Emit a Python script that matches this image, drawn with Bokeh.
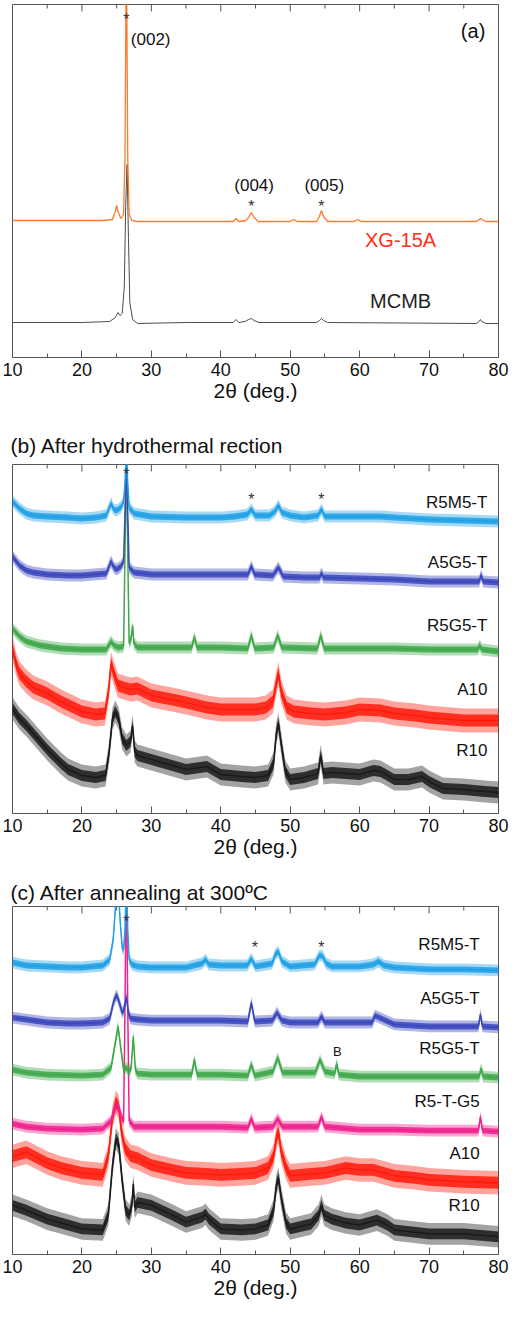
from bokeh.plotting import figure
from bokeh.layouts import column
from bokeh.models import SingleIntervalTicker, Label, ColumnDataSource
from bokeh.embed import file_html
from bokeh.resources import INLINE

FONT = "Liberation Sans"

# ---------------- data (2theta in degrees, intensity in arbitrary units) ----------------
TICK_MAJOR = [10, 20, 30, 40, 50, 60, 70, 80]
TICK_MINOR = [15, 25, 35, 45, 55, 65, 75]

# Panel (a)
XG15A_X = [10, 15, 20, 23, 24.4, 24.8, 25.0, 25.2, 25.6, 26.0, 26.2, 26.4, 26.6, 26.8, 27.2, 28, 35,
           41.8, 42.2, 42.6, 43.6, 44.0, 44.4, 44.8, 45.4, 50.0, 50.5, 51.0, 53.8, 54.2, 54.5, 54.8, 55.4,
           59.2, 59.7, 60.2, 76.8, 77.2, 77.4, 77.6, 78.2, 80]
XG15A_Y = [137, 137, 137, 137, 138, 146, 152, 146, 139, 143, 200, 420, 200, 143, 137, 136, 136,
           136, 139, 136, 137, 140, 145, 140, 136, 136, 138, 136, 136, 141, 147, 141, 136,
           136, 138, 136, 136, 138, 139, 138, 136, 136]
MCMB_X = [10, 20, 24.0, 24.8, 25.2, 25.5, 25.8, 26.1, 26.3, 26.5, 26.7, 26.9, 27.3, 28, 35,
          41.8, 42.2, 42.6, 43.5, 44.0, 44.4, 44.8, 45.5, 53.8, 54.2, 54.5, 54.8, 55.4,
          76.8, 77.2, 77.4, 77.6, 78.2, 80]
MCMB_Y = [35, 35, 36, 40, 45, 42, 44, 70, 150, 193, 120, 55, 38, 34, 35,
          35, 38, 35, 36, 38, 39, 37, 35, 35, 37, 39, 37, 35,
          34, 36, 38, 36, 34, 34]

# Panel (b): after hydrothermal reaction
B_R5M5T_X = [10, 11, 12, 13, 15, 18, 20, 22, 23.5, 24.2, 24.6, 25.0, 25.6, 26.0, 26.2, 26.4, 26.6, 26.8,
             27.5, 30, 35, 40, 42, 43.8, 44.4, 45, 47, 47.8, 48.3, 48.8, 50, 52, 54.0, 54.5, 55.0,
             57, 60, 63, 65, 70, 75, 80]
B_R5M5T_Y = [312, 305, 300, 298, 297, 296, 295, 296, 298, 310, 304, 303, 306, 312, 330, 360, 330, 306,
             300, 297, 296, 296, 297, 299, 304, 298, 298, 302, 308, 301, 298, 296, 298, 304, 297,
             297, 297, 297, 296, 294, 293, 292]
B_A5G5T_X = [10, 11, 12, 13, 15, 18, 20, 23.5, 24.2, 24.6, 25.0, 25.6, 26.0, 26.2, 26.4, 26.6, 26.8,
             27.5, 30, 35, 40, 43.9, 44.4, 44.9, 47.5, 48.3, 49, 52, 54.2, 54.5, 54.8, 60, 65, 70,
             77.2, 77.5, 77.8, 80]
B_A5G5T_Y = [257, 248, 243, 241, 239, 238, 238, 240, 252, 246, 244, 247, 252, 300, 360, 300, 246,
             241, 239, 239, 239, 239, 247, 239, 238, 246, 237, 236, 236, 240, 236, 235, 234, 232,
             232, 238, 232, 231]
B_R5G5T_X = [10, 11, 12, 14, 17, 20, 23.5, 24.2, 24.6, 25.2, 26.0, 26.2, 26.4, 26.6, 26.8, 27.1, 27.3,
             27.5, 28, 30, 35.8, 36.2, 36.6, 40, 43.9, 44.4, 44.9, 47.6, 48.2, 48.8, 53.9, 54.4, 54.9,
             60, 65, 70, 77.0, 77.3, 77.6, 80]
B_R5G5T_Y = [185, 177, 172, 168, 165, 164, 164, 172, 168, 166, 167, 260, 360, 260, 170, 175, 188,
             170, 166, 166, 166, 176, 166, 166, 165, 178, 165, 166, 178, 166, 165, 178, 165,
             165, 165, 164, 164, 168, 164, 162]
B_A10_X = [10, 10.5, 11, 12, 13, 15, 17, 20, 22, 23.3, 23.8, 24.2, 24.6, 25.2, 26, 27, 28, 30, 33, 35,
           38, 40, 43, 45, 46.5, 47.5, 48.0, 48.3, 48.7, 49.5, 50.5, 53, 55, 58, 60, 63, 65, 68, 70, 75, 80]
B_A10_Y = [165, 150, 140, 132, 126, 120, 112, 102, 99, 100, 120, 150, 140, 128, 126, 124, 125, 118, 114, 111,
           106, 104, 104, 104, 106, 112, 130, 140, 122, 106, 102, 100, 99, 101, 104, 103, 100, 98, 96, 93, 93]
B_R10_X = [10, 10.5, 11, 12, 13, 15, 17, 18, 20, 22, 23.4, 23.9, 24.4, 24.8, 25.3, 25.8, 26.4, 27.0, 27.3,
           27.6, 28, 30, 32, 35, 38, 40, 43, 45, 46.8, 47.6, 48.0, 48.3, 48.7, 49.3, 50, 52, 54.0, 54.4,
           54.8, 56, 58, 60, 62, 63, 65, 67, 69, 70, 72, 75, 78, 80]
B_R10_Y = [105, 100, 95, 88, 80, 64, 50, 44, 38, 36, 38, 60, 95, 102, 95, 75, 68, 72, 88,
           62, 58, 54, 50, 44, 47, 39, 37, 36, 38, 50, 80, 90, 70, 42, 34, 36, 40, 58,
           40, 41, 40, 39, 43, 42, 34, 34, 37, 32, 25, 24, 22, 21]

# Panel (c): after annealing at 300 C
C_R5M5T_X = [10, 12, 15, 18, 20, 23, 24.0, 24.5, 24.9, 25.2, 25.5, 25.8, 26.0, 26.2, 26.4, 26.6, 26.8,
             27.2, 28, 30, 35, 37.3, 37.8, 38.3, 40, 43.8, 44.4, 45, 47.4, 47.9, 48.3, 48.8, 50, 53.5,
             54.2, 54.6, 55.2, 56, 60, 62.0, 62.7, 63.5, 65, 70, 75, 80]
C_R5M5T_Y = [297, 294, 293, 292, 292, 294, 300, 320, 360, 380, 340, 312, 310, 330, 380, 330, 300,
             295, 293, 292, 292, 296, 300, 295, 294, 294, 301, 293, 296, 306, 308, 298, 293, 295,
             304, 304, 296, 293, 293, 295, 298, 294, 292, 290, 290, 289]
C_A5G5T_X = [10, 12, 15, 18, 20, 23, 24.0, 24.6, 25.0, 25.4, 25.8, 26.1, 26.4, 26.7, 27.0, 28, 30, 35, 40,
             43.9, 44.4, 44.9, 47.4, 48.1, 48.8, 50, 54.0, 54.5, 55.0, 60, 61.8, 62.2, 65, 70,
             77.1, 77.4, 77.7, 80]
C_A5G5T_Y = [241, 239, 236, 235, 235, 236, 240, 258, 264, 256, 246, 250, 262, 246, 240, 239, 238, 238, 238,
             237, 256, 237, 238, 246, 238, 236, 236, 242, 236, 236, 236, 243, 234, 232,
             232, 244, 232, 231]
C_R5G5T_X = [10, 12, 15, 20, 23, 24.2, 24.8, 25.2, 25.6, 26.0, 26.4, 26.8, 27.1, 27.4, 27.7, 28, 30,
             35.8, 36.2, 36.6, 40, 43.9, 44.4, 44.9, 47.5, 48.2, 48.9, 53.6, 54.3, 55.0, 56.4, 56.7, 57.0,
             60, 65, 70, 77.2, 77.5, 77.8, 80]
C_R5G5T_Y = [188, 185, 183, 182, 183, 190, 215, 232, 210, 188, 190, 186, 190, 222, 188, 184, 183,
             183, 198, 183, 183, 182, 193, 182, 186, 200, 185, 185, 198, 186, 184, 194, 183,
             181, 181, 181, 181, 189, 181, 180]
C_R5TG5_X = [10, 12, 15, 20, 23, 24.2, 24.7, 25.2, 25.7, 26.0, 26.2, 26.4, 26.6, 26.8, 27.5, 30, 35, 40,
             43.9, 44.4, 44.9, 47.5, 48.2, 48.9, 54.0, 54.5, 55.0, 60, 65, 70, 77.1, 77.4, 77.7, 80]
C_R5TG5_Y = [133, 130, 128, 127, 128, 136, 148, 152, 140, 135, 250, 400, 250, 136, 130, 130, 130, 130,
             129, 138, 129, 130, 138, 130, 130, 140, 130, 127, 127, 126, 126, 140, 126, 125]
C_A10_X = [10, 12, 15, 17, 20, 23, 23.8, 24.4, 24.9, 25.3, 25.7, 26.2, 27, 28, 30, 33, 35, 38, 40, 43,
           45, 46.8, 47.6, 48.0, 48.3, 48.7, 49.4, 50, 53, 55, 58, 60, 62, 65, 68, 70, 75, 80]
C_A10_Y = [100, 104, 93, 88, 83, 81, 100, 140, 155, 150, 125, 108, 100, 98, 91, 86, 83, 82, 81, 82,
           83, 88, 100, 118, 125, 105, 88, 80, 82, 83, 88, 86, 86, 80, 78, 76, 74, 73]
C_R10_X = [10, 12, 15, 18, 20, 23, 23.8, 24.4, 24.9, 25.3, 25.8, 26.3, 26.8, 27.2, 27.4, 27.6, 28, 30, 33,
           35, 37.3, 37.8, 38.3, 40, 43, 45, 46.8, 47.6, 48.0, 48.3, 48.7, 49.4, 50, 53, 54.1, 54.5, 54.9,
           56, 58, 60, 62.5, 64, 65, 70, 75, 80]
C_R10_Y = [50, 45, 36, 30, 26, 25, 40, 90, 118, 112, 75, 45, 40, 50, 72, 48, 53, 50, 40,
           33, 38, 41, 36, 26, 25, 26, 30, 45, 70, 78, 58, 32, 26, 31, 40, 50, 40,
           36, 32, 30, 35, 30, 25, 21, 21, 18]

# noise spread (half-width of the noisy band) per trace
NOISE_B = {"R5M5-T": 6, "A5G5-T": 6, "R5G5-T": 6, "A10": 12, "R10": 11}
NOISE_C = {"R5M5-T": 6, "A5G5-T": 6, "R5G5-T": 6, "R5-T-G5": 6, "A10": 12, "R10": 11}

COLORS = {"R5M5-T": "#1ea0e6", "A5G5-T": "#3a46bc", "R5G5-T": "#3ea84a",
          "R5-T-G5": "#f0208e", "A10": "#ff1a0a", "R10": "#1a1a1a"}

FRAME = "#555555"


def make_panel(height, top, bottom, ymax, title=None, title_standoff=10):
    p = figure(width=510, height=height, x_range=(10, 80), y_range=(0, ymax),
               output_backend="svg", toolbar_location=None, y_axis_type=None,
               min_border_left=12, min_border_right=12, min_border_top=top,
               min_border_bottom=bottom, background_fill_color="white",
               border_fill_color="white", outline_line_color=FRAME,
               outline_line_width=1)
    p.xgrid.visible = False
    p.ygrid.visible = False
    ax = p.xaxis[0]
    ax.ticker = SingleIntervalTicker(interval=10, num_minor_ticks=2)
    ax.major_tick_in = 7
    ax.major_tick_out = 0
    ax.minor_tick_in = 4
    ax.minor_tick_out = 0
    ax.major_tick_line_color = FRAME
    ax.minor_tick_line_color = FRAME
    ax.axis_line_color = FRAME
    ax.major_label_text_font = FONT
    ax.major_label_text_font_size = "18px"
    ax.major_label_text_color = "#111111"
    ax.major_label_standoff = 5
    ax.axis_label = "2θ (deg.)"
    ax.axis_label_text_font = FONT
    ax.axis_label_text_font_size = "21px"
    ax.axis_label_text_font_style = "normal"
    ax.axis_label_text_color = "#111111"
    ax.axis_label_standoff = 0
    # inward ticks along the top edge of the frame
    px = ymax / (height - top - bottom)
    p.segment(x0=TICK_MAJOR, x1=TICK_MAJOR, y0=[ymax] * len(TICK_MAJOR),
              y1=[ymax - 7 * px] * len(TICK_MAJOR), line_color=FRAME, line_width=1)
    p.segment(x0=TICK_MINOR, x1=TICK_MINOR, y0=[ymax] * len(TICK_MINOR),
              y1=[ymax - 4 * px] * len(TICK_MINOR), line_color=FRAME, line_width=1)
    if title:
        p.title.text = title
        p.title.text_font = FONT
        p.title.text_font_size = "21px"
        p.title.text_font_style = "normal"
        p.title.text_color = "#111111"
        p.title.align = "left"
        p.title.offset = -2
        p.title.standoff = title_standoff
    return p


def noisy(p, xs, ys, w, color):
    src = ColumnDataSource(dict(x=xs, y=ys,
                                lo=[v - w for v in ys], hi=[v + w for v in ys],
                                lo2=[v - 0.5 * w for v in ys], hi2=[v + 0.5 * w for v in ys]))
    p.varea(x="x", y1="lo", y2="hi", source=src, fill_color=color, fill_alpha=0.4)
    p.varea(x="x", y1="lo2", y2="hi2", source=src, fill_color=color, fill_alpha=0.85)
    p.line(x="x", y="y", source=src, line_color=color, line_width=1.5)


def lab(p, x, y, text, size="17px", color="#111111", align="right"):
    p.add_layout(Label(x=x, y=y, text=text, text_font=FONT, text_font_size=size,
                       text_color=color, text_align=align, text_baseline="middle"))


def star(p, x, y):
    p.add_layout(Label(x=x, y=y, text="*", text_font=FONT, text_font_size="16px",
                       text_color="#333333", text_align="center", text_baseline="middle"))


# ---------------- panel (a) ----------------
pa = make_panel(417, 4, 60, 353)
pa.line(MCMB_X, MCMB_Y, line_color="#4d4d4d", line_width=1)
pa.line(XG15A_X, XG15A_Y, line_color="#ff7a2a", line_width=1.3)
lab(pa, 29.9, 318, "(002)", "17px", align="center")
lab(pa, 44.8, 172, "(004)", "17px", align="center")
lab(pa, 54.9, 172, "(005)", "17px", align="center")
star(pa, 26.4, 338)
star(pa, 44.4, 151)
star(pa, 54.5, 151)
lab(pa, 65.9, 118, "XG-15A", "20px", color="#ff3019", align="center")
lab(pa, 65.9, 57, "MCMB", "20px", color="#222222", align="center")
lab(pa, 78.1, 327, "(a)", "20px", align="right")

# ---------------- panel (b) ----------------
pb = make_panel(456, 47, 60, 349, "(b) After hydrothermal rection", title_standoff=16)
for name, xs, ys in [("R10", B_R10_X, B_R10_Y), ("A10", B_A10_X, B_A10_Y),
                     ("R5G5-T", B_R5G5T_X, B_R5G5T_Y), ("A5G5-T", B_A5G5T_X, B_A5G5T_Y),
                     ("R5M5-T", B_R5M5T_X, B_R5M5T_Y)]:
    noisy(pb, xs, ys, NOISE_B[name], COLORS[name])
for name, yv in [("R5M5-T", 311), ("A5G5-T", 251), ("R5G5-T", 188), ("A10", 124), ("R10", 63)]:
    lab(pb, 78.4, yv, name)
star(pb, 26.4, 339)
star(pb, 44.4, 314)
star(pb, 54.5, 314)

# ---------------- panel (c) ----------------
pc = make_panel(441, 33, 60, 354, "(c) After annealing at 300ºC", title_standoff=6)
for name, xs, ys in [("R10", C_R10_X, C_R10_Y), ("A10", C_A10_X, C_A10_Y),
                     ("R5-T-G5", C_R5TG5_X, C_R5TG5_Y), ("R5G5-T", C_R5G5T_X, C_R5G5T_Y),
                     ("A5G5-T", C_A5G5T_X, C_A5G5T_Y), ("R5M5-T", C_R5M5T_X, C_R5M5T_Y)]:
    noisy(pc, xs, ys, NOISE_C[name], COLORS[name])
for name, yv in [("R5M5-T", 315), ("A5G5-T", 260), ("R5G5-T", 210), ("R5-T-G5", 156),
                 ("A10", 103), ("R10", 50)]:
    lab(pc, 77.3, yv, name)
star(pc, 26.4, 339)
star(pc, 44.9, 312)
star(pc, 54.5, 312)
lab(pc, 56.8, 207, "B", "13px", align="center")

layout = column(pa, pb, pc, spacing=0)
open("out.html", "w").write(file_html(layout, INLINE))
